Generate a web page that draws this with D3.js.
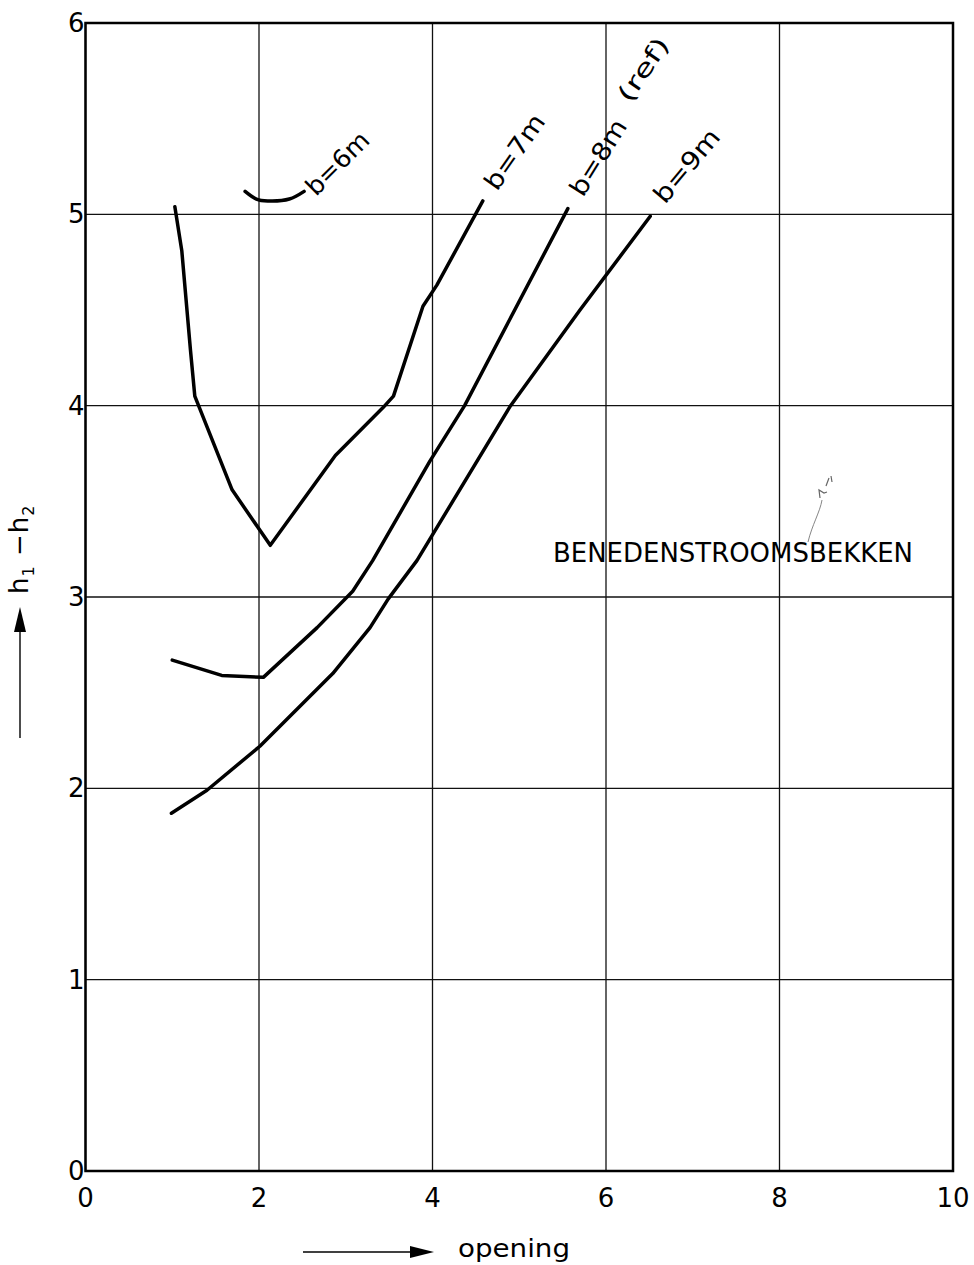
<!DOCTYPE html>
<html>
<head>
<meta charset="utf-8">
<script src="https://cdn.jsdelivr.net/npm/d3@7"></script>
<style>
  body { margin: 0; background: #fff; }
  text { font-family: "DejaVu Sans", sans-serif; fill: #000; }
</style>
</head>
<body>
<div id="chart"></div>
<script>
    // axis ticks
    const xTicks = [0, 2, 4, 6, 8, 10]
    const yTicks = [0, 1, 2, 3, 4, 5, 6]

    // curves: [opening, h1-h2]
    const b6 = [[1.84, 5.12], [1.97, 5.08], [2.1, 5.07], [2.35, 5.08], [2.52, 5.12]]
    const b7 = [[1.03, 5.04], [1.11, 4.81], [1.21, 4.29], [1.26, 4.05], [1.69, 3.56], [2.13, 3.27],
                [2.88, 3.74], [3.43, 3.99], [3.55, 4.05], [3.89, 4.52], [4.05, 4.63], [4.58, 5.07]]
    const b8 = [[1.0, 2.67], [1.57, 2.59], [2.05, 2.58], [2.67, 2.84], [3.08, 3.03], [3.31, 3.19],
                [3.97, 3.71], [4.37, 4.0], [5.56, 5.03]]
    const b9 = [[0.99, 1.87], [1.4, 1.99], [2.01, 2.22], [2.85, 2.6], [3.28, 2.84], [3.49, 2.99],
                [3.82, 3.19], [4.9, 4.0], [5.7, 4.5], [6.51, 4.99]]

    const curveLabels = ["b=6m", "b=7m", "b=8m", "b=9m"]

    const width = 974
    const height = 1265

    const svg = d3.select("#chart")
        .append("svg")
        .attr("width", width)
        .attr("height", height)

    const x = d3.scaleLinear().domain([0, 10]).range([85.5, 953])
    const y = d3.scaleLinear().domain([0, 6]).range([1171, 23])

    // grid
    svg.append("g")
        .selectAll("line")
        .data(xTicks)
        .join("line")
        .attr("x1", d => x(d)).attr("x2", d => x(d))
        .attr("y1", y(0)).attr("y2", y(6))
        .style("stroke", "#111")
        .style("stroke-width", 1.3)

    svg.append("g")
        .selectAll("line")
        .data(yTicks)
        .join("line")
        .attr("x1", x(0)).attr("x2", x(10))
        .attr("y1", d => y(d)).attr("y2", d => y(d))
        .style("stroke", "#111")
        .style("stroke-width", 1.3)

    // frame
    svg.append("rect")
        .attr("x", x(0)).attr("y", y(6))
        .attr("width", x(10) - x(0))
        .attr("height", y(0) - y(6))
        .style("fill", "none")
        .style("stroke", "#000")
        .style("stroke-width", 2.5)

    // tick labels
    svg.append("g")
        .selectAll("text")
        .data(yTicks)
        .join("text")
        .attr("x", x(0) - 1)
        .attr("y", d => y(d) + 9)
        .attr("text-anchor", "end")
        .style("font-size", "26px")
        .text(d => d)

    svg.append("g")
        .selectAll("text")
        .data(xTicks)
        .join("text")
        .attr("x", d => x(d))
        .attr("y", y(0) + 36)
        .attr("text-anchor", "middle")
        .style("font-size", "26px")
        .text(d => d)

    // curves
    const line = d3.line()
        .x(d => x(d[0]))
        .y(d => y(d[1]))
    const smooth = d3.line()
        .x(d => x(d[0]))
        .y(d => y(d[1]))
        .curve(d3.curveCatmullRom)

    svg.append("path")
        .attr("d", smooth(b6))
        .style("fill", "none")
        .style("stroke", "#000")
        .style("stroke-width", 3.5)
        .style("stroke-linecap", "round")

    const curves = [b7, b8, b9]
    svg.append("g")
        .selectAll("path")
        .data(curves)
        .join("path")
        .attr("d", line)
        .style("fill", "none")
        .style("stroke", "#000")
        .style("stroke-width", 3.5)
        .style("stroke-linejoin", "round")
        .style("stroke-linecap", "round")

    // rotated curve labels
    const labelPos = [
        { px: 316, py: 197, ang: -45, len: 78 },
        { px: 497, py: 192, ang: -55, len: 86 },
        { px: 583, py: 198, ang: -58, len: 85 },
        { px: 665, py: 205, ang: -50, len: 88 }
    ]
    svg.append("g")
        .selectAll("text")
        .data(curveLabels)
        .join("text")
        .attr("transform", (d, i) => "translate(" + labelPos[i].px + "," + labelPos[i].py + ") rotate(" + labelPos[i].ang + ")")
        .attr("textLength", (d, i) => labelPos[i].len)
        .attr("lengthAdjust", "spacingAndGlyphs")
        .style("font-size", "25px")
        .text(d => d)

    svg.append("text")
        .attr("transform", "translate(630,104) rotate(-56)")
        .attr("textLength", 72)
        .attr("lengthAdjust", "spacingAndGlyphs")
        .style("font-size", "24px")
        .text("(ref)")

    // basin annotation
    svg.append("text")
        .attr("x", 553)
        .attr("y", 562)
        .attr("textLength", 360)
        .attr("lengthAdjust", "spacingAndGlyphs")
        .style("font-size", "26px")
        .text("BENEDENSTROOMSBEKKEN")

    svg.append("path")
        .attr("d", "M808,542 C812,525 820,512 822,500")
        .style("fill", "none")
        .style("stroke", "#777")
        .style("stroke-width", 0.9)
    svg.append("path")
        .attr("d", "M820,498 L819,490 L824,493 L827,492 M826,486 L829,478 M831,476 L832,482")
        .style("fill", "none")
        .style("stroke", "#666")
        .style("stroke-width", 1.2)

    // x axis title with arrow
    svg.append("line")
        .attr("x1", 303).attr("x2", 412)
        .attr("y1", 1252).attr("y2", 1252)
        .style("stroke", "#000")
        .style("stroke-width", 1.4)
    svg.append("polygon")
        .attr("points", "410,1246 434,1252 410,1258")
        .style("fill", "#000")
    svg.append("text")
        .attr("x", 458)
        .attr("y", 1257)
        .attr("textLength", 112)
        .attr("lengthAdjust", "spacingAndGlyphs")
        .style("font-size", "25px")
        .text("opening")

    // y axis title with arrow
    svg.append("line")
        .attr("x1", 20).attr("x2", 20)
        .attr("y1", 738).attr("y2", 630)
        .style("stroke", "#000")
        .style("stroke-width", 1.4)
    svg.append("polygon")
        .attr("points", "14,632 20,607 26,632")
        .style("fill", "#000")

    const yTitle = svg.append("text")
        .attr("transform", "translate(28,594) rotate(-90)")
        .style("font-size", "26px")
        .style("letter-spacing", "1px")
    yTitle.append("tspan").text("h")
    yTitle.append("tspan").attr("dy", 6).style("font-size", "16px").text("1")
    yTitle.append("tspan").attr("dy", -6).text(" \u2212h")
    yTitle.append("tspan").attr("dy", 6).style("font-size", "16px").text("2")
</script>
</body>
</html>
